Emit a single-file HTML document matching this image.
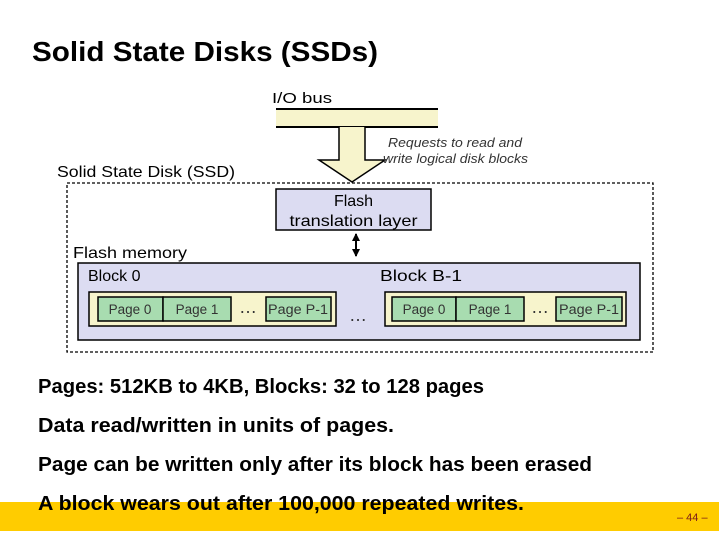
<!DOCTYPE html>
<html><head><meta charset="utf-8"><style>
html,body{margin:0;padding:0;background:#fff}
svg{display:block}
text{font-family:"Liberation Sans",Arial,sans-serif}
</style></head><body>
<svg width="719" height="539" viewBox="0 0 719 539">
<defs><marker id="ah" markerUnits="userSpaceOnUse" markerWidth="8" markerHeight="8" refX="7" refY="4" orient="auto-start-reverse"><path d="M0,0 L8,4 L0,8 z" fill="#000"/></marker></defs>
<text x="32" y="61" font-size="28" font-weight="bold" textLength="346" lengthAdjust="spacingAndGlyphs">Solid State Disks (SSDs)</text>
<rect x="0" y="502" width="719" height="29" fill="#ffcc00"/>
<text x="272" y="103" font-size="15" textLength="60" lengthAdjust="spacingAndGlyphs">I/O bus</text>
<rect x="276" y="109" width="162" height="18" fill="#f7f4cc"/>
<line x1="276" y1="109" x2="438" y2="109" stroke="#000" stroke-width="2"/>
<line x1="276" y1="127" x2="438" y2="127" stroke="#000" stroke-width="2"/>
<path d="M339,127 L339,160 L319,160 L352,182 L385,160 L365,160 L365,127" fill="#f7f4cc" stroke="#000" stroke-width="1.5"/>
<text x="388" y="147" font-size="12.5" font-style="italic" fill="#333" textLength="134" lengthAdjust="spacingAndGlyphs">Requests to read and</text>
<text x="383" y="163" font-size="12.5" font-style="italic" fill="#333" textLength="145" lengthAdjust="spacingAndGlyphs">write logical disk blocks</text>
<text x="57" y="177" font-size="16" textLength="178" lengthAdjust="spacingAndGlyphs">Solid State Disk (SSD)</text>
<rect x="67" y="183" width="586" height="169" fill="none" stroke="#000" stroke-width="1.3" stroke-dasharray="3,2"/>
<rect x="276" y="189" width="155" height="41" fill="#dcdcf2" stroke="#000" stroke-width="1.5"/>
<text x="353.5" y="206" font-size="16" text-anchor="middle">Flash</text>
<text x="353.5" y="226" font-size="16" text-anchor="middle" textLength="128" lengthAdjust="spacingAndGlyphs">translation layer</text>
<line x1="356" y1="234" x2="356" y2="256" stroke="#000" stroke-width="2" marker-start="url(#ah)" marker-end="url(#ah)"/>
<text x="73" y="258" font-size="16" textLength="114" lengthAdjust="spacingAndGlyphs">Flash memory</text>
<rect x="78" y="263" width="562" height="77" fill="#dcdcf2" stroke="#000" stroke-width="1.5"/>
<text x="88" y="281" font-size="16">Block 0</text>
<text x="380" y="281" font-size="16" textLength="82" lengthAdjust="spacingAndGlyphs">Block  B-1</text>
<rect x="89" y="292" width="247" height="34" fill="#f7f4cc" stroke="#000" stroke-width="1.5"/>
<rect x="385" y="292" width="241" height="34" fill="#f7f4cc" stroke="#000" stroke-width="1.5"/>
<g fill="#a8dcb0" stroke="#000" stroke-width="1.5">
<rect x="98" y="297" width="65" height="24"/><rect x="163" y="297" width="68" height="24"/><rect x="266" y="297" width="65" height="24"/>
<rect x="392" y="297" width="64" height="24"/><rect x="456" y="297" width="68" height="24"/><rect x="556" y="297" width="66" height="24"/>
</g>
<g font-size="13.5" fill="#333" text-anchor="middle">
<text x="130" y="314">Page 0</text><text x="197" y="314">Page 1</text><text x="298" y="314" textLength="60" lengthAdjust="spacingAndGlyphs">Page P-1</text>
<text x="424" y="314">Page 0</text><text x="490" y="314">Page 1</text><text x="589" y="314" textLength="60" lengthAdjust="spacingAndGlyphs">Page P-1</text>
</g>
<g font-size="18" fill="#333" text-anchor="middle">
<text x="248" y="313">…</text><text x="358" y="321">…</text><text x="540" y="313">…</text>
</g>
<g font-size="20" font-weight="bold">
<text x="38" y="393" textLength="446" lengthAdjust="spacingAndGlyphs">Pages: 512KB to 4KB, Blocks: 32 to 128 pages</text>
<text x="38" y="432" textLength="356" lengthAdjust="spacingAndGlyphs">Data read/written in units of pages.</text>
<text x="38" y="471" textLength="554" lengthAdjust="spacingAndGlyphs">Page can be written only after its block has been erased</text>
<text x="38" y="510" textLength="486" lengthAdjust="spacingAndGlyphs">A block wears out after 100,000 repeated writes.</text>
</g>
<text x="677" y="521" font-size="11" fill="#7a1a1a">– 44 –</text>
</svg>
</body></html>
